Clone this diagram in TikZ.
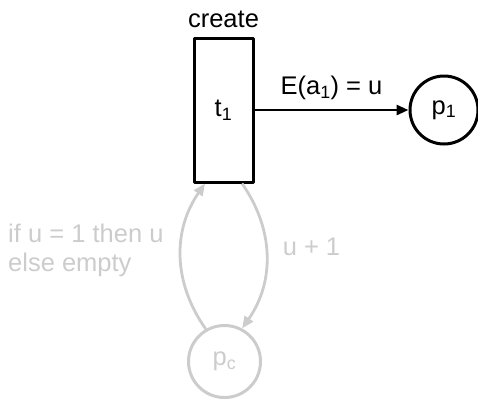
\documentclass[tikz,border=0pt]{standalone}
\usepackage{fontspec}
\setmainfont{Liberation Sans}
\usetikzlibrary{arrows.meta}
\definecolor{fadegrey}{RGB}{204,204,204}
\begin{document}
\begin{tikzpicture}[x=1pt,y=-1pt,line join=round,
		font=\fontsize{25.5}{29}\selectfont,
		>={Triangle[length=12pt,width=10pt]},
		transition/.style={draw,line width=3pt,minimum width=59pt,minimum height=144pt,inner sep=0pt},
		place/.style={draw,circle,line width=3pt,minimum size=68pt,inner sep=0pt},
		faded/.style={draw=fadegrey,text=fadegrey}]
			\useasboundingbox (0,0) rectangle (478,400);
			\node[transition] (t1) at (223.5,110) {t\textsubscript{1}};
			\node[anchor=base] (create) at ([yshift=9pt]t1.north) {create};
			\node[place] (p1) at (444,110) {p\textsubscript{1}};
			\node[place,faded,minimum size=72pt] (pc) at (224.5,361.5) {p\textsubscript{c}};
			\draw[->,line width=2.8pt] (t1.east) -- (p1.west)
				node[midway,above=5pt] (arclabel) {E(a\textsubscript{1}) = u};
			\draw[->,line width=2.8pt,fadegrey] (pc.120) to[bend left=35]
				node[anchor=east,xshift=-16pt,yshift=5.5pt,inner sep=0pt,align=left,text=fadegrey] (guard) {if u = 1 then u\\else empty}
				([xshift=-18.5pt]t1.south);
			\draw[->,line width=2.8pt,fadegrey] ([xshift=18.5pt]t1.south) to[bend left=35]
				node[anchor=base west,xshift=15pt,inner sep=0pt,text=fadegrey] (incr) {u + 1}
				(pc.62);
		\end{tikzpicture}
\end{document}
